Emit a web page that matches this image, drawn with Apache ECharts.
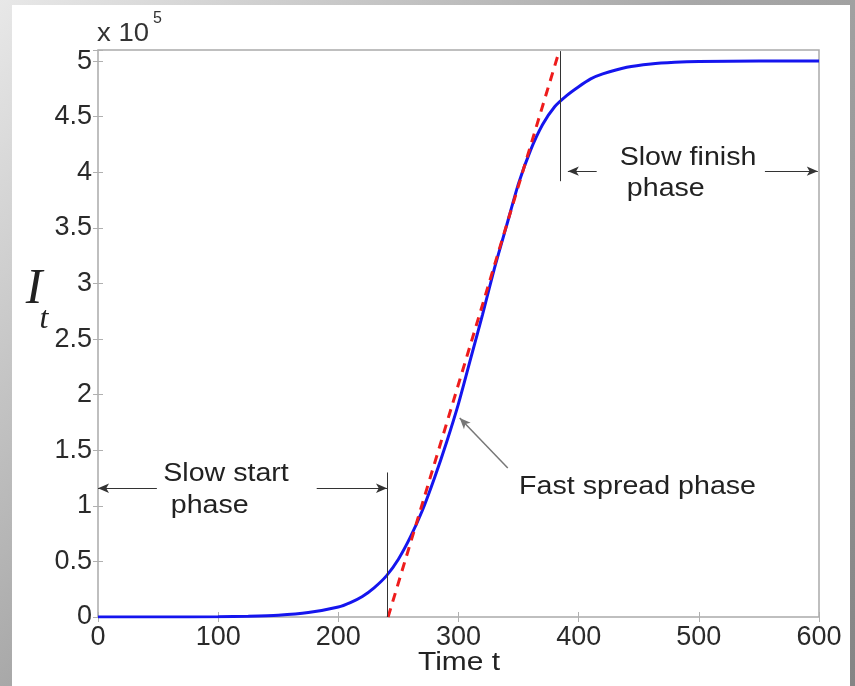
<!DOCTYPE html>
<html>
<head>
<meta charset="utf-8">
<script src="https://cdn.jsdelivr.net/npm/echarts@6/dist/echarts.min.js"></script>
<style>
html,body{margin:0;padding:0;width:855px;height:686px;overflow:hidden;
background:linear-gradient(135deg,#e8e8e8 0%,#a8a8a8 45%,#858585 100%);}
#panel{position:absolute;left:12px;top:5px;width:838px;height:681px;background:#fff;}
#chart{position:absolute;left:0;top:0;width:855px;height:686px;}
</style>
</head>
<body>
<div id="panel"></div>
<div id="chart"></div>
<script>
// Data
const tValues = [0,50,100,125,150,175,200,210,220,230,240,250,260,270,280,290,300,310,320,330,340,350,360,370,380,390,400,410,420,440,460,480,500,550,600];
const infected = [0,0,300,700,1600,4000,9000,13000,18500,26500,37000,52000,72000,96000,125000,157000,192000,232000,272000,314000,352000,390000,420000,443000,459000,469000,477000,484000,488500,494500,497500,499000,499700,500000,500000];
const tangentT = [241.4,383.8];
const tangentI = [0,509000];
const xTicks = [0,100,200,300,400,500,600];
const yTickLabels = ['0','0.5','1','1.5','2','2.5','3','3.5','4','4.5','5'];

// annotation geometry in data coordinates
const startLines = [[[240.5,130000],[240.5,0]]];
const startArrows = [[[49,115800],[0,115800]],[[182,115800],[240.5,115800]]];
const finishLines = [[[384.4,509000],[384.4,392000]]];
const finishArrows = [[[415,401000],[391,401000]],[[555,401000],[599,401000]]];
const fastArrows = [[[341,134000],[301,179000]]];
const texts = [
  {t:106.5, v:129000, s:'Slow start'},
  {t:93, v:100000, s:'phase'},
  {t:491, v:413000, s:'Slow finish'},
  {t:472.5, v:385000, s:'phase'},
  {t:449, v:117000, s:'Fast spread phase'}
];

const chart = echarts.init(document.getElementById('chart'), null, {renderer:'canvas'});
const FONT = 'Liberation Sans, Arial, Helvetica, sans-serif';
const TICKCOL = '#b0b0b0';

function lineItems(segs, arrow){
  return segs.map(s => [
    {coord:s[0], symbol:'none'},
    {coord:s[1], symbol: arrow ? 'arrow' : 'none', symbolSize:[7,11]}
  ]);
}

const curve = tValues.map((t,i)=>[t, infected[i]]);
const tangent = tangentT.map((t,i)=>[t, tangentI[i]]);

const option = {
  animation:false,
  backgroundColor:'transparent',
  grid:{left:98,right:36,top:50,bottom:69,show:true,borderColor:'#aaaaaa',borderWidth:1.5,backgroundColor:'transparent'},
  xAxis:[{
    type:'value',min:0,max:600,interval:100,
    axisLine:{show:false},
    axisTick:{inside:true,length:5,lineStyle:{color:TICKCOL}},
    splitLine:{show:false},
    axisLabel:{color:'#2a2a2a',fontSize:27,fontFamily:FONT,margin:7}
  },{
    type:'value',min:0,max:600,interval:100,position:'top',
    axisLine:{show:false},
    axisTick:{inside:true,length:5,lineStyle:{color:TICKCOL}},
    splitLine:{show:false},axisLabel:{show:false}
  }],
  yAxis:[{
    type:'value',min:0,max:510000,interval:50000,
    axisLine:{show:false},
    axisTick:{inside:true,length:5,lineStyle:{color:TICKCOL}},
    splitLine:{show:false},
    axisLabel:{color:'#2a2a2a',fontSize:27,fontFamily:FONT,margin:6,
      formatter:function(v){const k=Math.round(v/50000); return (Math.abs(v-k*50000)<1 && k<yTickLabels.length)?yTickLabels[k]:'';}}
  },{
    type:'value',min:0,max:510000,interval:50000,position:'right',
    axisLine:{show:false},
    axisTick:{inside:true,length:5,lineStyle:{color:TICKCOL}},
    splitLine:{show:false},axisLabel:{show:false}
  }],
  series:[
    {
      type:'line',data:curve,showSymbol:false,smooth:0.25,
      lineStyle:{color:'#1515ee',width:3},z:3
    },
    {
      type:'line',data:tangent,showSymbol:false,
      lineStyle:{color:'#ee1c1c',width:3,type:[9,7]},z:4
    },
    {
      type:'line',data:[],showSymbol:false,
      markLine:{
        silent:true,animation:false,
        label:{show:false},
        lineStyle:{color:'#333',width:1,type:'solid'},
        data:[].concat(lineItems(startLines,false),lineItems(startArrows,true),
          lineItems(finishLines,false),lineItems(finishArrows,true))
      }
    },
    {
      type:'line',data:[],showSymbol:false,
      markLine:{
        silent:true,animation:false,
        label:{show:false},
        lineStyle:{color:'#777',width:1.5,type:'solid'},
        data:lineItems(fastArrows,true)
      }
    }
  ]
};
chart.setOption(option);

const g = texts.map(o=>{
  const p = chart.convertToPixel({gridIndex:0},[o.t,o.v]);
  return {type:'text',x:p[0],y:p[1],scaleX:1.1,style:{text:o.s,font:'26px '+FONT,fill:'#222',align:'center',verticalAlign:'middle'},z:10};
});
g.push({type:'text',x:97,y:34,scaleX:1.1,style:{text:'x 10',font:'25px '+FONT,fill:'#333',align:'left',verticalAlign:'middle'}});
g.push({type:'text',x:153,y:19,style:{text:'5',font:'16px '+FONT,fill:'#333',align:'left',verticalAlign:'middle'}});
g.push({type:'text',x:34,y:290,style:{text:'I',font:'italic 50px "Liberation Serif", "Times New Roman", serif',fill:'#222',align:'center',verticalAlign:'middle'}});
g.push({type:'text',x:44,y:320,style:{text:'t',font:'italic 32px "Liberation Serif", "Times New Roman", serif',fill:'#222',align:'center',verticalAlign:'middle'}});
g.push({type:'text',x:459,y:663,scaleX:1.15,style:{text:'Time t',font:'26px '+FONT,fill:'#222',align:'center',verticalAlign:'middle'}});
chart.setOption({graphic:g});
</script>
</body>
</html>
